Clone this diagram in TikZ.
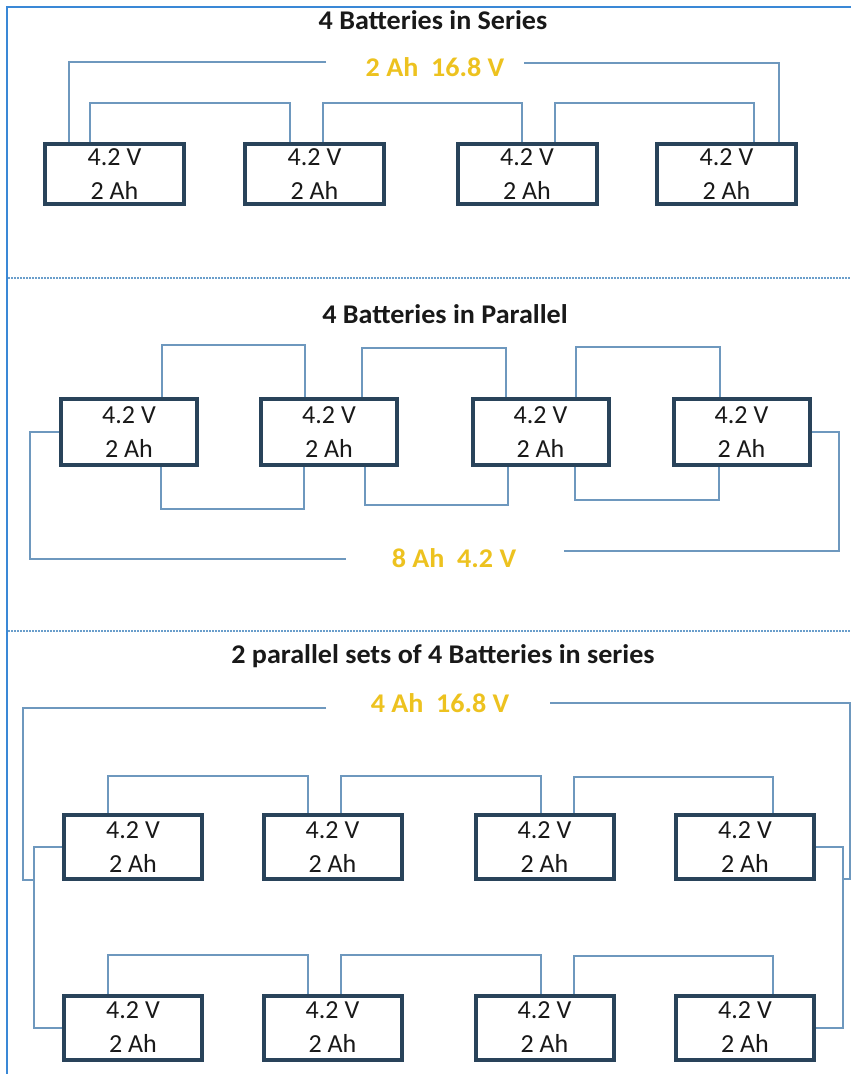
\documentclass[tikz,border=0pt]{standalone}
\usepackage{fontspec}
\newfontfamily\boxfont{Carlito}
\newfontfamily\headfont[FakeStretch=1.04]{Carlito}
\definecolor{wirec}{HTML}{6E98BE}
\definecolor{boxc}{HTML}{29435A}
\definecolor{goldc}{HTML}{EDC21F}
\definecolor{framec}{HTML}{3A88D6}
\definecolor{sepc}{HTML}{6A9ECB}
\begin{document}
\begin{tikzpicture}[x=1pt,y=-1pt,
  batt/.style={draw=boxc,fill=white,line width=4pt,inner sep=0pt,align=center,
    font=\boxfont\fontsize{26}{34}\selectfont,text=black!90},
  battA/.style={batt,minimum width=139pt,minimum height=60pt},
  battB/.style={batt,minimum width=136pt,minimum height=66pt},
  battC/.style={batt,minimum width=138pt,minimum height=64pt},
  wire/.style={draw=wirec,line width=2pt},
  title/.style={anchor=base,font=\headfont\bfseries\fontsize{27}{30}\selectfont,text=black!90},
  gold/.style={anchor=base,text=goldc,font=\headfont\bfseries\fontsize{27}{30}\selectfont}]
\fill[white] (0,0) rectangle (851,1074);
\useasboundingbox (0,0) rectangle (851,1074);
% frame and separators
\draw[framec,line width=1.5pt] (851,7) -- (7,7) -- (7,1074);
\draw[sepc,line width=1.5pt,dash pattern=on 1.5pt off 1.5pt] (8,278) -- (851,278);
\draw[sepc,line width=1.5pt,dash pattern=on 1.5pt off 1.5pt] (8,631) -- (851,631);

% ---------- Section 1: series ----------
\node[title] (t1) at (433,29) {4 Batteries in Series};
\node[gold] (g1) at (435,76) {2 Ah\ \ 16.8 V};
\node[battA] (s1b1) at (114.5,174) {4.2 V\\2 Ah};
\node[battA] (s1b2) at (314.5,174) {4.2 V\\2 Ah};
\node[battA] (s1b3) at (527,174) {4.2 V\\2 Ah};
\node[battA] (s1b4) at (726.5,174) {4.2 V\\2 Ah};
\draw[wire] ([xshift=-24.5pt]s1b1.north) -- ++(0,-39) -| ([xshift=-24.5pt]s1b2.north);
\draw[wire] ([xshift=8.5pt]s1b2.north) -- ++(0,-39) -| ([xshift=-5pt]s1b3.north);
\draw[wire] ([xshift=28pt]s1b3.north) -- ++(0,-39) -| ([xshift=27.5pt]s1b4.north);
\coordinate (s1L) at (326,62);
\coordinate (s1R) at (524,63);
\draw[wire] (s1L) -| ([xshift=-45.5pt]s1b1.north);
\draw[wire] (s1R) -| ([xshift=52.5pt]s1b4.north);

% ---------- Section 2: parallel ----------
\node[title] (t2) at (445,323) {4 Batteries in Parallel};
\node[gold] (g2) at (454,567) {8 Ah\ \ 4.2 V};
\node[battB] (s2b1) at (129,432) {4.2 V\\2 Ah};
\node[battB] (s2b2) at (329,432) {4.2 V\\2 Ah};
\node[battB] (s2b3) at (540.5,432) {4.2 V\\2 Ah};
\node[battB] (s2b4) at (741.5,432) {4.2 V\\2 Ah};
\draw[wire] ([xshift=33pt]s2b1.north) -- ++(0,-52) -| ([xshift=-24pt]s2b2.north);
\draw[wire] ([xshift=33pt]s2b2.north) -- ++(0,-49) -| ([xshift=-34.5pt]s2b3.north);
\draw[wire] ([xshift=35.5pt]s2b3.north) -- ++(0,-50) -| ([xshift=-21.5pt]s2b4.north);
\draw[wire] ([xshift=32pt]s2b1.south) -- ++(0,42) -| ([xshift=-25pt]s2b2.south);
\draw[wire] ([xshift=36pt]s2b2.south) -- ++(0,38) -| ([xshift=-32.5pt]s2b3.south);
\draw[wire] ([xshift=34.5pt]s2b3.south) -- ++(0,33) -| ([xshift=-22.5pt]s2b4.south);
\coordinate (s2L) at (346,559);
\coordinate (s2R) at (564,551);
\draw[wire] (s2b1.west) -- ++(-29,0) |- (s2L);
\draw[wire] (s2b4.east) -- ++(27,0) |- (s2R);

% ---------- Section 3: 2 parallel sets of 4 in series ----------
\node[title] (t3) at (443,663) {2 parallel sets of 4 Batteries in series};
\node[gold] (g3) at (440,712) {4 Ah\ \ 16.8 V};
\node[battC] (u1) at (133,847) {4.2 V\\2 Ah};
\node[battC] (u2) at (332.5,847) {4.2 V\\2 Ah};
\node[battC] (u3) at (544.5,847) {4.2 V\\2 Ah};
\node[battC] (u4) at (745,847) {4.2 V\\2 Ah};
\node[battC] (l1) at (133,1027.5) {4.2 V\\2 Ah};
\node[battC] (l2) at (332.5,1027.5) {4.2 V\\2 Ah};
\node[battC] (l3) at (544.5,1027.5) {4.2 V\\2 Ah};
\node[battC] (l4) at (745,1027.5) {4.2 V\\2 Ah};
\draw[wire] ([xshift=-25pt]u1.north) -- ++(0,-37) -| ([xshift=-24.5pt]u2.north);
\draw[wire] ([xshift=8.5pt]u2.north) -- ++(0,-37) -| ([xshift=-3.5pt]u3.north);
\draw[wire] ([xshift=29.5pt]u3.north) -- ++(0,-36) -| ([xshift=28pt]u4.north);
\draw[wire] ([xshift=-25pt]l1.north) -- ++(0,-39) -| ([xshift=-24.5pt]l2.north);
\draw[wire] ([xshift=8.5pt]l2.north) -- ++(0,-39) -| ([xshift=-3.5pt]l3.north);
\draw[wire] ([xshift=29.5pt]l3.north) -- ++(0,-38) -| ([xshift=28pt]l4.north);
\draw[wire] (u1.west) -- ++(-28,0) |- (l1.west);
\draw[wire] (u4.east) -- ++(27,0) |- (l4.east);
\coordinate (s3L) at (326,708);
\coordinate (s3Lj) at (33,880);
\coordinate (s3R) at (550,703);
\coordinate (s3Rj) at (843,879);
\draw[wire] (s3L) -| ++(-303,172) -- (s3Lj);
\draw[wire] (s3R) -| ++(300,176) -- (s3Rj);
\end{tikzpicture}
\end{document}
